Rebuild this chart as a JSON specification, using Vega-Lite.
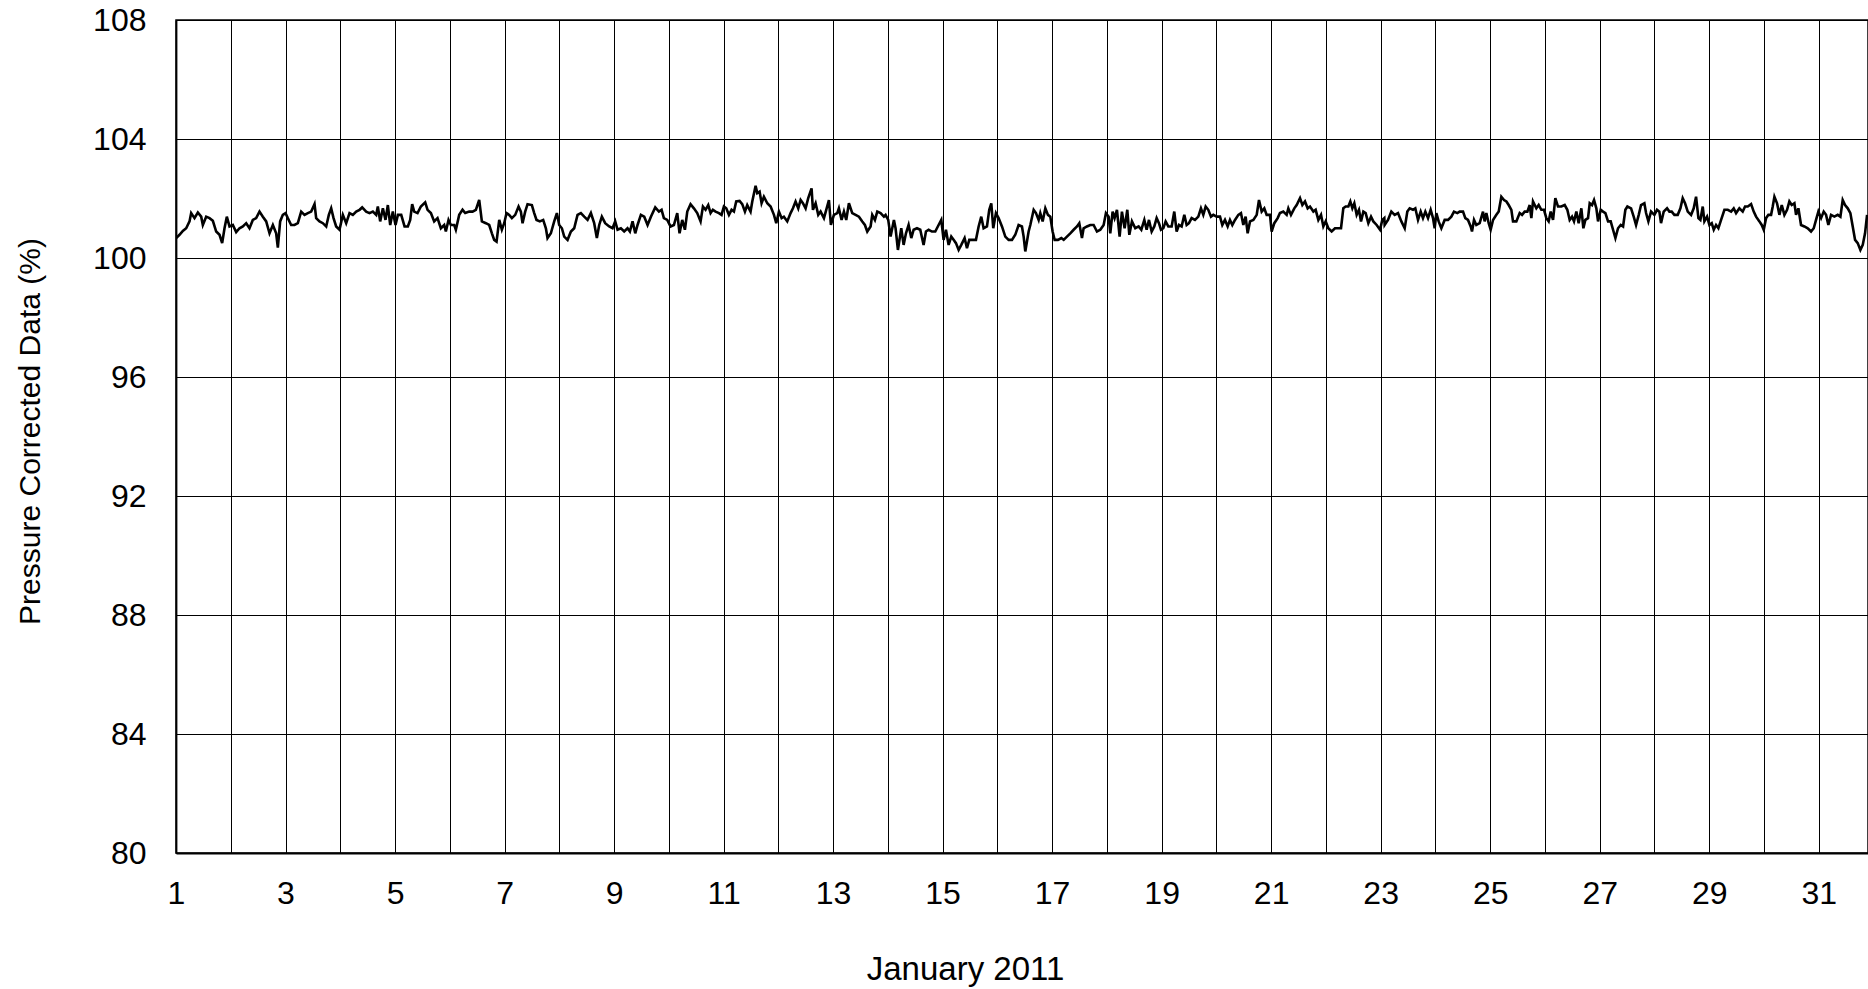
{
  "$schema": "https://vega.github.io/schema/vega-lite/v6.json",
  "width": 1692,
  "height": 833,
  "autosize": {"type": "none"},
  "padding": {"left": 176, "top": 20, "right": 0, "bottom": 136},
  "background": "#ffffff",
  "config": {
    "view": {"stroke": "#000000", "strokeWidth": 1.5},
    "axis": {
      "labelFont": "Liberation Sans",
      "titleFont": "Liberation Sans",
      "labelFontSize": 32,
      "titleFontSize": 32,
      "labelColor": "#000000",
      "titleColor": "#000000",
      "titleFontWeight": "normal",
      "gridColor": "#000000",
      "gridWidth": 1,
      "gridOpacity": 1,
      "domainColor": "#000000",
      "domainWidth": 1.8,
      "ticks": false,
      "tickSize": 0
    }
  },
  "data": {
    "values": [
      {"d":1.003,"v":100.67},{"d":1.064,"v":100.78},{"d":1.125,"v":100.91},{"d":1.186,"v":101.00},{"d":1.247,"v":101.23},{"d":1.277,"v":101.51},{"d":1.338,"v":101.34},{"d":1.399,"v":101.53},{"d":1.460,"v":101.39},{"d":1.490,"v":101.11},{"d":1.551,"v":101.39},{"d":1.612,"v":101.34},{"d":1.673,"v":101.25},{"d":1.734,"v":100.89},{"d":1.795,"v":100.78},{"d":1.843,"v":100.50},{"d":1.886,"v":101.00},{"d":1.928,"v":101.39},{"d":1.977,"v":101.06},{"d":2.038,"v":101.11},{"d":2.099,"v":100.87},{"d":2.160,"v":101.00},{"d":2.221,"v":101.06},{"d":2.282,"v":101.17},{"d":2.342,"v":101.00},{"d":2.403,"v":101.28},{"d":2.464,"v":101.34},{"d":2.525,"v":101.56},{"d":2.586,"v":101.39},{"d":2.647,"v":101.23},{"d":2.708,"v":100.83},{"d":2.769,"v":101.11},{"d":2.829,"v":100.83},{"d":2.860,"v":100.35},{"d":2.902,"v":101.23},{"d":2.951,"v":101.45},{"d":3.000,"v":101.51},{"d":3.042,"v":101.34},{"d":3.103,"v":101.11},{"d":3.164,"v":101.11},{"d":3.225,"v":101.17},{"d":3.286,"v":101.56},{"d":3.347,"v":101.45},{"d":3.408,"v":101.51},{"d":3.469,"v":101.56},{"d":3.530,"v":101.81},{"d":3.560,"v":101.34},{"d":3.621,"v":101.23},{"d":3.682,"v":101.17},{"d":3.743,"v":101.06},{"d":3.791,"v":101.45},{"d":3.834,"v":101.67},{"d":3.877,"v":101.34},{"d":3.925,"v":101.06},{"d":3.986,"v":100.95},{"d":4.047,"v":101.45},{"d":4.108,"v":101.17},{"d":4.169,"v":101.51},{"d":4.230,"v":101.45},{"d":4.291,"v":101.56},{"d":4.352,"v":101.62},{"d":4.400,"v":101.70},{"d":4.473,"v":101.56},{"d":4.534,"v":101.51},{"d":4.595,"v":101.56},{"d":4.656,"v":101.45},{"d":4.686,"v":101.73},{"d":4.729,"v":101.23},{"d":4.778,"v":101.67},{"d":4.826,"v":101.28},{"d":4.869,"v":101.78},{"d":4.912,"v":101.11},{"d":4.960,"v":101.56},{"d":5.009,"v":101.11},{"d":5.052,"v":101.45},{"d":5.113,"v":101.45},{"d":5.174,"v":101.06},{"d":5.234,"v":101.06},{"d":5.277,"v":101.28},{"d":5.313,"v":101.81},
      {"d":5.350,"v":101.56},{"d":5.411,"v":101.51},{"d":5.472,"v":101.73},{"d":5.551,"v":101.87},{"d":5.594,"v":101.62},{"d":5.655,"v":101.51},{"d":5.715,"v":101.23},{"d":5.776,"v":101.34},{"d":5.837,"v":101.00},{"d":5.898,"v":101.11},{"d":5.928,"v":100.89},{"d":5.977,"v":101.28},{"d":6.020,"v":101.11},{"d":6.081,"v":101.11},{"d":6.111,"v":100.95},{"d":6.172,"v":101.45},{"d":6.233,"v":101.62},{"d":6.282,"v":101.51},{"d":6.355,"v":101.56},{"d":6.416,"v":101.56},{"d":6.476,"v":101.62},{"d":6.537,"v":101.95},{"d":6.586,"v":101.23},{"d":6.659,"v":101.17},{"d":6.720,"v":101.11},{"d":6.769,"v":100.83},{"d":6.811,"v":100.61},{"d":6.854,"v":100.55},{"d":6.903,"v":101.28},{"d":6.951,"v":100.95},{"d":6.994,"v":101.17},{"d":7.036,"v":101.51},{"d":7.085,"v":101.45},{"d":7.134,"v":101.34},{"d":7.195,"v":101.45},{"d":7.256,"v":101.73},{"d":7.298,"v":101.56},{"d":7.329,"v":101.17},{"d":7.377,"v":101.56},{"d":7.420,"v":101.81},{"d":7.499,"v":101.78},{"d":7.542,"v":101.51},{"d":7.584,"v":101.28},{"d":7.645,"v":101.23},{"d":7.706,"v":101.28},{"d":7.755,"v":101.00},{"d":7.785,"v":100.67},{"d":7.846,"v":100.83},{"d":7.907,"v":101.23},{"d":7.956,"v":101.51},{"d":7.998,"v":101.11},{"d":8.047,"v":101.00},{"d":8.090,"v":100.72},{"d":8.151,"v":100.61},{"d":8.212,"v":100.89},{"d":8.272,"v":101.00},{"d":8.333,"v":101.45},{"d":8.394,"v":101.51},{"d":8.455,"v":101.39},{"d":8.516,"v":101.28},{"d":8.577,"v":101.51},{"d":8.637,"v":101.17},{"d":8.686,"v":100.67},{"d":8.729,"v":101.11},{"d":8.777,"v":101.39},{"d":8.838,"v":101.17},{"d":8.911,"v":101.06},{"d":8.972,"v":101.00},{"d":9.021,"v":101.23},{"d":9.064,"v":100.95},{"d":9.125,"v":101.00},{"d":9.185,"v":100.89},{"d":9.246,"v":101.00},{"d":9.289,"v":100.89},{"d":9.338,"v":101.23},{"d":9.387,"v":100.83},{"d":9.429,"v":101.11},{"d":9.490,"v":101.45},{"d":9.551,"v":101.39},{"d":9.612,"v":101.11},{"d":9.673,"v":101.39},{"d":9.752,"v":101.70},
      {"d":9.819,"v":101.56},{"d":9.868,"v":101.62},{"d":9.910,"v":101.34},{"d":9.971,"v":101.28},{"d":10.032,"v":101.06},{"d":10.093,"v":101.11},{"d":10.154,"v":101.51},{"d":10.196,"v":100.83},{"d":10.245,"v":101.28},{"d":10.294,"v":100.95},{"d":10.337,"v":101.56},{"d":10.397,"v":101.81},{"d":10.458,"v":101.67},{"d":10.519,"v":101.51},{"d":10.580,"v":101.23},{"d":10.623,"v":101.73},{"d":10.671,"v":101.62},{"d":10.720,"v":101.78},{"d":10.763,"v":101.51},{"d":10.805,"v":101.62},{"d":10.854,"v":101.56},{"d":10.915,"v":101.51},{"d":10.963,"v":101.45},{"d":11.006,"v":101.73},{"d":11.049,"v":101.67},{"d":11.098,"v":101.45},{"d":11.146,"v":101.62},{"d":11.189,"v":101.56},{"d":11.231,"v":101.90},{"d":11.292,"v":101.92},{"d":11.341,"v":101.81},{"d":11.390,"v":101.56},{"d":11.432,"v":101.78},{"d":11.493,"v":101.56},{"d":11.524,"v":101.90},{"d":11.585,"v":102.43},{"d":11.615,"v":102.18},{"d":11.658,"v":102.23},{"d":11.694,"v":101.84},{"d":11.737,"v":102.06},{"d":11.798,"v":101.84},{"d":11.859,"v":101.73},{"d":11.920,"v":101.45},{"d":11.962,"v":101.17},{"d":12.011,"v":101.56},{"d":12.060,"v":101.34},{"d":12.102,"v":101.39},{"d":12.163,"v":101.23},{"d":12.224,"v":101.51},{"d":12.267,"v":101.67},{"d":12.315,"v":101.90},{"d":12.364,"v":101.67},{"d":12.407,"v":101.95},{"d":12.449,"v":101.84},{"d":12.498,"v":101.67},{"d":12.546,"v":102.01},{"d":12.607,"v":102.34},{"d":12.632,"v":101.62},{"d":12.681,"v":101.84},{"d":12.729,"v":101.45},{"d":12.772,"v":101.56},{"d":12.833,"v":101.34},{"d":12.875,"v":101.62},{"d":12.924,"v":101.95},{"d":12.960,"v":101.11},{"d":13.015,"v":101.45},{"d":13.076,"v":101.51},{"d":13.106,"v":101.67},{"d":13.155,"v":101.28},{"d":13.198,"v":101.56},{"d":13.240,"v":101.28},{"d":13.289,"v":101.84},{"d":13.350,"v":101.51},{"d":13.411,"v":101.45},{"d":13.472,"v":101.39},{"d":13.533,"v":101.23},{"d":13.581,"v":101.11},{"d":13.624,"v":100.89},{"d":13.685,"v":101.06},{"d":13.715,"v":101.45},{"d":13.764,"v":101.28},{"d":13.807,"v":101.56},{"d":13.867,"v":101.51},{"d":13.928,"v":101.39},{"d":13.959,"v":101.45},{"d":14.007,"v":101.28},{"d":14.050,"v":100.72},{"d":14.111,"v":101.28},{"d":14.141,"v":101.00},{"d":14.184,"v":100.27},
      {"d":14.245,"v":101.00},{"d":14.288,"v":100.44},{"d":14.331,"v":100.83},{"d":14.379,"v":101.11},{"d":14.428,"v":100.67},{"d":14.471,"v":100.95},{"d":14.532,"v":101.00},{"d":14.592,"v":100.95},{"d":14.653,"v":100.44},{"d":14.696,"v":100.89},{"d":14.745,"v":100.95},{"d":14.805,"v":100.89},{"d":14.866,"v":100.89},{"d":14.927,"v":101.11},{"d":14.976,"v":101.28},{"d":15.018,"v":100.61},{"d":15.061,"v":100.95},{"d":15.110,"v":100.44},{"d":15.158,"v":100.72},{"d":15.201,"v":100.61},{"d":15.244,"v":100.50},{"d":15.293,"v":100.27},{"d":15.341,"v":100.44},{"d":15.402,"v":100.67},{"d":15.445,"v":100.33},{"d":15.487,"v":100.61},{"d":15.548,"v":100.61},{"d":15.609,"v":100.61},{"d":15.658,"v":101.06},{"d":15.706,"v":101.39},{"d":15.749,"v":101.00},{"d":15.810,"v":101.06},{"d":15.852,"v":101.62},{"d":15.889,"v":101.84},{"d":15.925,"v":101.00},{"d":15.974,"v":101.51},{"d":16.023,"v":101.34},{"d":16.084,"v":101.06},{"d":16.145,"v":100.72},{"d":16.206,"v":100.61},{"d":16.267,"v":100.61},{"d":16.327,"v":100.78},{"d":16.388,"v":101.11},{"d":16.449,"v":101.06},{"d":16.480,"v":100.72},{"d":16.510,"v":100.22},{"d":16.571,"v":100.89},{"d":16.602,"v":101.11},{"d":16.663,"v":101.62},{"d":16.705,"v":101.51},{"d":16.754,"v":101.28},{"d":16.784,"v":101.51},{"d":16.827,"v":101.23},{"d":16.876,"v":101.67},{"d":16.924,"v":101.45},{"d":16.967,"v":101.39},{"d":17.009,"v":100.89},{"d":17.046,"v":100.61},{"d":17.107,"v":100.61},{"d":17.168,"v":100.67},{"d":17.211,"v":100.61},{"d":17.271,"v":100.72},{"d":17.332,"v":100.83},{"d":17.393,"v":100.95},{"d":17.454,"v":101.06},{"d":17.496,"v":101.17},{"d":17.545,"v":100.67},{"d":17.575,"v":101.00},{"d":17.636,"v":101.06},{"d":17.697,"v":101.11},{"d":17.758,"v":101.11},{"d":17.819,"v":100.89},{"d":17.880,"v":100.95},{"d":17.941,"v":101.11},{"d":17.983,"v":101.51},{"d":18.032,"v":101.39},{"d":18.062,"v":100.83},{"d":18.105,"v":101.56},{"d":18.141,"v":101.34},{"d":18.184,"v":101.62},{"d":18.233,"v":100.72},{"d":18.275,"v":101.56},{"d":18.324,"v":101.00},{"d":18.373,"v":101.62},{"d":18.410,"v":100.78},{"d":18.458,"v":101.23},{"d":18.519,"v":101.00},{"d":18.580,"v":101.06},{"d":18.629,"v":100.95},
      {"d":18.684,"v":101.28},{"d":18.726,"v":100.95},{"d":18.769,"v":101.28},{"d":18.818,"v":100.89},{"d":18.866,"v":101.06},{"d":18.909,"v":101.34},{"d":18.951,"v":101.17},{"d":18.988,"v":100.95},{"d":19.031,"v":101.00},{"d":19.073,"v":101.23},{"d":19.122,"v":101.06},{"d":19.183,"v":101.06},{"d":19.231,"v":101.56},{"d":19.274,"v":100.89},{"d":19.317,"v":101.11},{"d":19.365,"v":101.06},{"d":19.414,"v":101.45},{"d":19.457,"v":101.11},{"d":19.499,"v":101.17},{"d":19.548,"v":101.34},{"d":19.609,"v":101.28},{"d":19.670,"v":101.39},{"d":19.718,"v":101.67},{"d":19.761,"v":101.45},{"d":19.804,"v":101.73},{"d":19.852,"v":101.62},{"d":19.901,"v":101.39},{"d":19.944,"v":101.45},{"d":20.005,"v":101.39},{"d":20.066,"v":101.39},{"d":20.108,"v":101.11},{"d":20.157,"v":101.28},{"d":20.206,"v":101.06},{"d":20.248,"v":101.28},{"d":20.291,"v":101.11},{"d":20.340,"v":101.28},{"d":20.401,"v":101.45},{"d":20.449,"v":101.51},{"d":20.492,"v":101.11},{"d":20.534,"v":101.39},{"d":20.571,"v":100.83},{"d":20.614,"v":101.23},{"d":20.675,"v":101.28},{"d":20.736,"v":101.45},{"d":20.778,"v":101.95},{"d":20.827,"v":101.56},{"d":20.875,"v":101.67},{"d":20.918,"v":101.45},{"d":20.979,"v":101.45},{"d":21.009,"v":100.89},{"d":21.058,"v":101.17},{"d":21.119,"v":101.34},{"d":21.161,"v":101.51},{"d":21.222,"v":101.56},{"d":21.283,"v":101.45},{"d":21.314,"v":101.67},{"d":21.362,"v":101.45},{"d":21.423,"v":101.67},{"d":21.466,"v":101.78},{"d":21.527,"v":102.01},{"d":21.570,"v":101.78},{"d":21.618,"v":101.90},{"d":21.667,"v":101.67},{"d":21.710,"v":101.73},{"d":21.771,"v":101.56},{"d":21.813,"v":101.62},{"d":21.862,"v":101.28},{"d":21.911,"v":101.45},{"d":21.953,"v":101.06},{"d":21.996,"v":101.23},{"d":22.044,"v":101.00},{"d":22.105,"v":100.89},{"d":22.166,"v":101.00},{"d":22.227,"v":101.00},{"d":22.276,"v":101.00},{"d":22.318,"v":101.67},{"d":22.361,"v":101.73},{"d":22.410,"v":101.73},{"d":22.446,"v":101.90},{"d":22.483,"v":101.67},{"d":22.519,"v":101.84},{"d":22.562,"v":101.45},{"d":22.604,"v":101.62},{"d":22.641,"v":101.23},{"d":22.684,"v":101.56},{"d":22.726,"v":101.51},{"d":22.775,"v":101.17},{"d":22.824,"v":101.39},{"d":22.866,"v":101.23},{"d":22.927,"v":101.11},{"d":22.988,"v":100.95},{"d":23.030,"v":101.28},{"d":23.067,"v":101.34},
      {"d":23.073,"v":101.11},{"d":23.134,"v":101.28},{"d":23.195,"v":101.56},{"d":23.256,"v":101.45},{"d":23.317,"v":101.51},{"d":23.378,"v":101.23},{"d":23.439,"v":101.00},{"d":23.487,"v":101.56},{"d":23.530,"v":101.67},{"d":23.591,"v":101.62},{"d":23.633,"v":101.67},{"d":23.682,"v":101.28},{"d":23.731,"v":101.56},{"d":23.773,"v":101.34},{"d":23.816,"v":101.56},{"d":23.865,"v":101.34},{"d":23.913,"v":101.62},{"d":23.956,"v":101.34},{"d":23.986,"v":101.00},{"d":24.017,"v":101.51},{"d":24.059,"v":101.23},{"d":24.108,"v":101.00},{"d":24.169,"v":101.28},{"d":24.230,"v":101.28},{"d":24.291,"v":101.39},{"d":24.339,"v":101.56},{"d":24.400,"v":101.51},{"d":24.443,"v":101.56},{"d":24.504,"v":101.56},{"d":24.546,"v":101.34},{"d":24.595,"v":101.28},{"d":24.644,"v":101.06},{"d":24.668,"v":100.89},{"d":24.705,"v":101.28},{"d":24.747,"v":101.11},{"d":24.808,"v":101.17},{"d":24.869,"v":101.56},{"d":24.899,"v":101.23},{"d":24.930,"v":101.51},{"d":24.973,"v":101.17},{"d":25.009,"v":100.95},{"d":25.052,"v":101.28},{"d":25.113,"v":101.45},{"d":25.156,"v":101.56},{"d":25.204,"v":102.06},{"d":25.253,"v":101.95},{"d":25.296,"v":101.90},{"d":25.338,"v":101.78},{"d":25.387,"v":101.62},{"d":25.417,"v":101.23},{"d":25.478,"v":101.23},{"d":25.539,"v":101.51},{"d":25.582,"v":101.45},{"d":25.630,"v":101.56},{"d":25.679,"v":101.56},{"d":25.722,"v":101.78},{"d":25.752,"v":101.34},{"d":25.782,"v":101.90},{"d":25.843,"v":101.67},{"d":25.886,"v":101.78},{"d":25.934,"v":101.62},{"d":25.983,"v":101.62},{"d":26.026,"v":101.34},{"d":26.068,"v":101.23},{"d":26.105,"v":101.56},{"d":26.148,"v":101.28},{"d":26.190,"v":102.01},{"d":26.239,"v":101.73},{"d":26.300,"v":101.73},{"d":26.361,"v":101.78},{"d":26.409,"v":101.62},{"d":26.452,"v":101.28},{"d":26.495,"v":101.39},{"d":26.531,"v":101.23},{"d":26.574,"v":101.56},{"d":26.616,"v":101.17},{"d":26.665,"v":101.67},{"d":26.702,"v":101.00},{"d":26.738,"v":101.28},{"d":26.787,"v":101.34},{"d":26.818,"v":101.84},{"d":26.860,"v":101.78},{"d":26.897,"v":101.95},{"d":26.939,"v":101.67},{"d":26.970,"v":101.23},{"d":27.019,"v":101.62},{"d":27.061,"v":101.56},{"d":27.104,"v":101.51},{"d":27.153,"v":101.23},{"d":27.201,"v":101.23},{"d":27.244,"v":100.95},{"d":27.287,"v":100.67},{"d":27.335,"v":101.00},{"d":27.384,"v":101.11},{"d":27.427,"v":101.06},{"d":27.469,"v":101.62},{"d":27.506,"v":101.73},
      {"d":27.573,"v":101.67},{"d":27.621,"v":101.39},{"d":27.664,"v":101.11},{"d":27.713,"v":101.45},{"d":27.755,"v":101.78},{"d":27.816,"v":101.84},{"d":27.847,"v":101.51},{"d":27.889,"v":101.23},{"d":27.938,"v":101.56},{"d":27.999,"v":101.45},{"d":28.047,"v":101.62},{"d":28.090,"v":101.56},{"d":28.120,"v":101.17},{"d":28.169,"v":101.56},{"d":28.230,"v":101.67},{"d":28.273,"v":101.56},{"d":28.315,"v":101.56},{"d":28.364,"v":101.45},{"d":28.425,"v":101.45},{"d":28.474,"v":101.67},{"d":28.516,"v":102.01},{"d":28.559,"v":101.84},{"d":28.608,"v":101.56},{"d":28.669,"v":101.45},{"d":28.717,"v":101.67},{"d":28.760,"v":102.06},{"d":28.803,"v":101.34},{"d":28.839,"v":101.28},{"d":28.882,"v":101.73},{"d":28.912,"v":101.23},{"d":28.961,"v":101.39},{"d":29.004,"v":101.11},{"d":29.046,"v":101.17},{"d":29.083,"v":100.95},{"d":29.125,"v":101.11},{"d":29.168,"v":101.00},{"d":29.217,"v":101.28},{"d":29.278,"v":101.62},{"d":29.339,"v":101.62},{"d":29.400,"v":101.56},{"d":29.448,"v":101.67},{"d":29.491,"v":101.51},{"d":29.551,"v":101.67},{"d":29.612,"v":101.56},{"d":29.655,"v":101.73},{"d":29.704,"v":101.73},{"d":29.765,"v":101.81},{"d":29.813,"v":101.56},{"d":29.856,"v":101.39},{"d":29.917,"v":101.23},{"d":29.959,"v":101.11},{"d":29.996,"v":100.95},{"d":30.038,"v":101.34},{"d":30.081,"v":101.45},{"d":30.130,"v":101.45},{"d":30.160,"v":101.73},{"d":30.191,"v":102.06},{"d":30.239,"v":101.84},{"d":30.282,"v":101.45},{"d":30.325,"v":101.78},{"d":30.373,"v":101.45},{"d":30.422,"v":101.62},{"d":30.464,"v":101.90},{"d":30.507,"v":101.78},{"d":30.556,"v":101.84},{"d":30.586,"v":101.45},{"d":30.629,"v":101.67},{"d":30.677,"v":101.11},{"d":30.738,"v":101.06},{"d":30.799,"v":101.00},{"d":30.860,"v":100.89},{"d":30.909,"v":101.00},{"d":30.951,"v":101.28},{"d":30.994,"v":101.56},{"d":31.043,"v":101.34},{"d":31.091,"v":101.56},{"d":31.134,"v":101.45},{"d":31.176,"v":101.11},{"d":31.225,"v":101.45},{"d":31.286,"v":101.39},{"d":31.347,"v":101.45},{"d":31.396,"v":101.39},{"d":31.438,"v":101.95},{"d":31.481,"v":101.78},{"d":31.530,"v":101.67},{"d":31.578,"v":101.51},{"d":31.621,"v":101.06},{"d":31.664,"v":100.61},{"d":31.712,"v":100.50},{"d":31.761,"v":100.27},{"d":31.804,"v":100.44},{"d":31.846,"v":100.83},{"d":31.883,"v":101.45}
    ]
  },
  "mark": {"type": "line", "color": "#000000", "strokeWidth": 2.6, "clip": true},
  "encoding": {
    "x": {
      "field": "d",
      "type": "quantitative",
      "scale": {"domain": [1, 31.9], "nice": false, "zero": false},
      "axis": {
        "title": "January 2011",
        "values": [1,2,3,4,5,6,7,8,9,10,11,12,13,14,15,16,17,18,19,20,21,22,23,24,25,26,27,28,29,30,31],
        "labelExpr": "datum.value % 2 == 1 ? datum.value : ''",
        "labelPadding": 25,
        "labelFlush": false,
        "labelOverlap": false,
        "grid": true,
        "titleFontSize": 33,
        "titleX": 789,
        "titleY": 126,
        "titleAlign": "center",
        "titleBaseline": "alphabetic"
      }
    },
    "y": {
      "field": "v",
      "type": "quantitative",
      "scale": {"domain": [80, 108], "nice": false, "zero": false},
      "axis": {
        "title": "Pressure Corrected Data (%)",
        "values": [80, 84, 88, 92, 96, 100, 104, 108],
        "labelPadding": 30,
        "labelFlush": false,
        "labelOverlap": false,
        "grid": true,
        "titleFontSize": 30,
        "titleX": -137,
        "titleY": 411,
        "titleAngle": -90,
        "titleBaseline": "alphabetic"
      }
    }
  }
}
